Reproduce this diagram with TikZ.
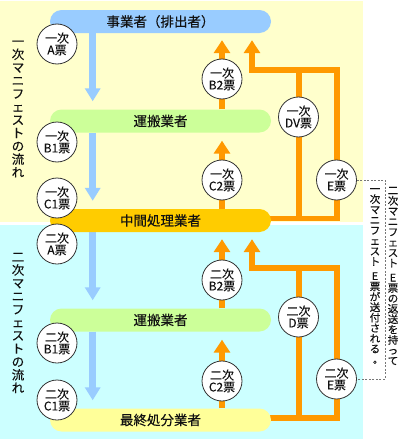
\documentclass[tikz,border=0pt]{standalone}
\usepackage{fontspec}
\setmainfont{Noto Sans CJK JP}[FakeBold=0.3]
\usetikzlibrary{arrows.meta}
\definecolor{bgyellow}{HTML}{FFFFCC}
\definecolor{bgcyan}{HTML}{CCFFFF}
\definecolor{barblue}{HTML}{99CCFF}
\definecolor{bargreen}{HTML}{CCFF99}
\definecolor{barorange}{HTML}{FFCC00}
\definecolor{baryellow}{HTML}{FFFF99}
\definecolor{arroworange}{HTML}{FF9900}
\definecolor{arrowblue}{HTML}{99CCFF}
\definecolor{ink}{HTML}{111111}
\definecolor{rim}{HTML}{333333}
\definecolor{dashgray}{HTML}{777777}
\pgfdeclarelayer{bg}
\pgfsetlayers{bg,main}
\newcommand{\kuten}{\makebox[1em][l]{\hspace{0.3em}。}}
\begin{document}
\begin{tikzpicture}[x=1pt,y=-1pt,
  bar/.style={rounded corners=11.5pt, minimum width=221pt, minimum height=23pt,
    inner sep=0pt, font=\fontsize{13.5}{13.5}\selectfont, text=ink},
  ticket/.style={circle, draw=rim, line width=0.8pt, fill=white, minimum size=40pt,
    inner sep=0pt, align=center, font=\fontsize{12}{11.8}\selectfont, text=ink},
  bluearrow/.style={draw=arrowblue, line width=6.7pt, -{Triangle[width=15pt,length=13pt]}},
  orangeline/.style={draw=arroworange, line width=5.3pt},
  orangearrow/.style={orangeline, -{Triangle[width=16pt,length=13pt]}},
  dashline/.style={draw=dashgray, line width=0.7pt, dash pattern=on 2pt off 1.5pt},
  sidelabel/.style={inner sep=0pt, align=center, font=\fontsize{12.5}{13.1}\selectfont, text=ink},
  notelabel/.style={inner sep=0pt, align=center, font=\fontsize{10.5}{10.4}\selectfont, text=ink}
]
\useasboundingbox (0,0) rectangle (400,439);

% bars
\node[bar, fill=barblue]   (jigyo)   at (160.5,21.5) {事業者（排出者）};
\node[bar, fill=bargreen]  (unpanA)  at (160.5,121)  {運搬業者};
\node[bar, fill=barorange] (chukan)  at (160.5,220.5) {中間処理業者};
\node[bar, fill=bargreen]  (unpanB)  at (160.5,320)  {運搬業者};
\node[bar, fill=baryellow] (saishu)  at (160.5,420)  {最終処分業者};

% tickets, first manifest
\node[ticket] (a1)  at (57,44)      {一次\\A票};
\node[ticket] (b11) at (57,142)     {一次\\B1票};
\node[ticket] (c11) at (57,198)     {一次\\C1票};
\node[ticket] (b21) at (222,79)     {一次\\B2票};
\node[ticket] (c21) at (222,180)    {一次\\C2票};
\node[ticket] (dv1) at (298.5,117)  {一次\\DV票};
\node[ticket] (e1)  at (336.5,180)  {一次\\E票};
% tickets, second manifest
\node[ticket] (a2)  at (57,244)     {二次\\A票};
\node[ticket] (b12) at (57,343)     {二次\\B1票};
\node[ticket] (c12) at (57,400)     {二次\\C1票};
\node[ticket] (b22) at (222,280)    {二次\\B2票};
\node[ticket] (c22) at (222,381)    {二次\\C2票};
\node[ticket] (d2)  at (298.5,317)  {二次\\D票};
\node[ticket] (e2)  at (336.5,379)  {二次\\E票};

% side labels
\node[sidelabel] (lab1) at (18,109) {一\\次\\マ\\ニ\\フ\\ェ\\ス\\ト\\の\\流\\れ};
\node[sidelabel] (lab2) at (18,323) {二\\次\\マ\\ニ\\フ\\ェ\\ス\\ト\\の\\流\\れ};
\node[notelabel] (noteR) at (393,276) {二\\次\\マ\\ニ\\フ\\ェ\\ス\\ト\\[4pt]E\\票\\の\\返\\送\\を\\持\\っ\\て};
\node[notelabel] (noteL) at (375,276) {一\\次\\マ\\ニ\\フ\\ェ\\ス\\ト\\[4pt]E\\票\\が\\送\\付\\さ\\れ\\る\\\kuten};

% helper coordinates
\coordinate (bx) at (92.7,0);
\coordinate (ox) at (222,0);
\coordinate (rx) at (252,0);
\coordinate (dvx) at (299,0);
\coordinate (ex) at (337,0);
\coordinate (dashx) at (385,0);
\coordinate (top1) at (0,70);
\coordinate (top2) at (0,268);
\coordinate (bot1) at (270,218.5);
\coordinate (bot2) at (270,418);

\begin{pgfonlayer}{bg}
  \fill[bgyellow] (0,1) rectangle (363,222);
  \fill[bgcyan] (0,224.5) rectangle (363,439);
  % blue flow
  \draw[bluearrow, shorten >=8pt] (bx |- jigyo.south) -- (bx |- unpanA.north);
  \draw[bluearrow, shorten >=8pt] (bx |- unpanA.south) -- (bx |- chukan.north);
  \draw[bluearrow, shorten >=8pt] (bx |- chukan.south) -- (bx |- unpanB.north);
  \draw[bluearrow, shorten >=8pt] (bx |- unpanB.south) -- (bx |- saishu.north);
  % orange returns, first manifest
  \draw[orangearrow, shorten >=7pt] (ox |- unpanA.north) -- (ox |- jigyo.south);
  \draw[orangearrow, shorten >=8pt] (ox |- chukan.north) -- (ox |- unpanA.south);
  \draw[orangearrow, shorten >=7pt] (bot1) -| (ex |- top1) -| (rx |- jigyo.south);
  \draw[orangeline] (dvx |- top1) -- (dvx |- bot1);
  % orange returns, second manifest
  \draw[orangearrow, shorten >=7pt] (ox |- unpanB.north) -- (ox |- chukan.south);
  \draw[orangearrow, shorten >=8pt] (ox |- saishu.north) -- (ox |- unpanB.south);
  \draw[orangearrow, shorten >=7pt] (bot2) -| (ex |- top2) -| (rx |- chukan.south);
  \draw[orangeline] (dvx |- top2) -- (dvx |- bot2);
  % dashed note link
  \draw[dashline] (e1.east) -- (dashx |- e1.east) -- (dashx |- e2.east) -- (e2.east);
\end{pgfonlayer}
\end{tikzpicture}
\end{document}
